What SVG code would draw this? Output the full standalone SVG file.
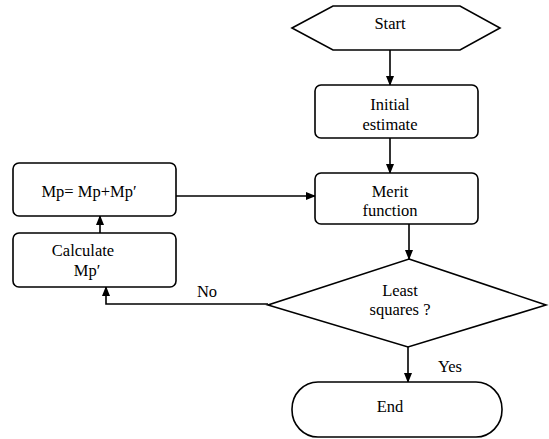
<svg xmlns="http://www.w3.org/2000/svg" width="549" height="439" viewBox="0 0 549 439">
<style>
.s{fill:#fff;stroke:#000;stroke-width:1.6}
.c{fill:none;stroke:#000;stroke-width:1.6}
.t{font-family:'Liberation Serif','Times New Roman',serif;font-size:16.5px;fill:#000;text-anchor:middle}
</style>
<defs>
<marker id="ah" markerWidth="10" markerHeight="10" refX="9" refY="5" orient="auto" markerUnits="userSpaceOnUse">
<path d="M0,1 L10,5 L0,9 Z" fill="#000"/>
</marker>
</defs>
<rect width="549" height="439" fill="#fff"/>
<g id="connectors">
<line class="c" x1="390" y1="50" x2="390" y2="85" marker-end="url(#ah)"/>
<line class="c" x1="390" y1="138" x2="390" y2="173" marker-end="url(#ah)"/>
<line class="c" x1="409" y1="224" x2="409" y2="259" marker-end="url(#ah)"/>
<line class="c" x1="408" y1="347" x2="408" y2="382" marker-end="url(#ah)"/>
<line class="c" x1="176" y1="196" x2="315" y2="196" marker-end="url(#ah)"/>
<line class="c" x1="100" y1="233" x2="100" y2="216" marker-end="url(#ah)"/>
<polyline class="c" points="268,304 106,304 106,287" marker-end="url(#ah)"/>
<text class="t" x="207" y="297">No</text>
<text class="t" x="450" y="372">Yes</text>
</g>
<g id="start">
<polygon class="s" points="292,28 333,6 460,6 500,28 460,50 333,50"/>
<text class="t" x="390" y="29">Start</text>
</g>
<g id="initial">
<rect class="s" x="315" y="85" width="163" height="53" rx="6"/>
<text class="t" x="390" y="110">Initial</text>
<text class="t" x="390" y="129.5">estimate</text>
</g>
<g id="merit">
<rect class="s" x="315" y="173" width="163" height="51" rx="6"/>
<text class="t" x="390" y="196.5">Merit</text>
<text class="t" x="390" y="216">function</text>
</g>
<g id="decision">
<polygon class="s" points="409,259 546,305 408,347 268,305"/>
<text class="t" x="400" y="295.5">Least</text>
<text class="t" x="400" y="315">squares ?</text>
</g>
<g id="end">
<rect class="s" x="292" y="382" width="210" height="55" rx="26" ry="27"/>
<text class="t" x="390" y="412">End</text>
</g>
<g id="update">
<rect class="s" x="13" y="163" width="163" height="53" rx="6"/>
<text class="t" x="89" y="197">Mp= Mp+Mp′</text>
</g>
<g id="calc">
<rect class="s" x="13" y="233" width="163" height="54" rx="6"/>
<text class="t" x="83" y="256">Calculate</text>
<text class="t" x="87" y="275.5">Mp′</text>
</g>
</svg>
